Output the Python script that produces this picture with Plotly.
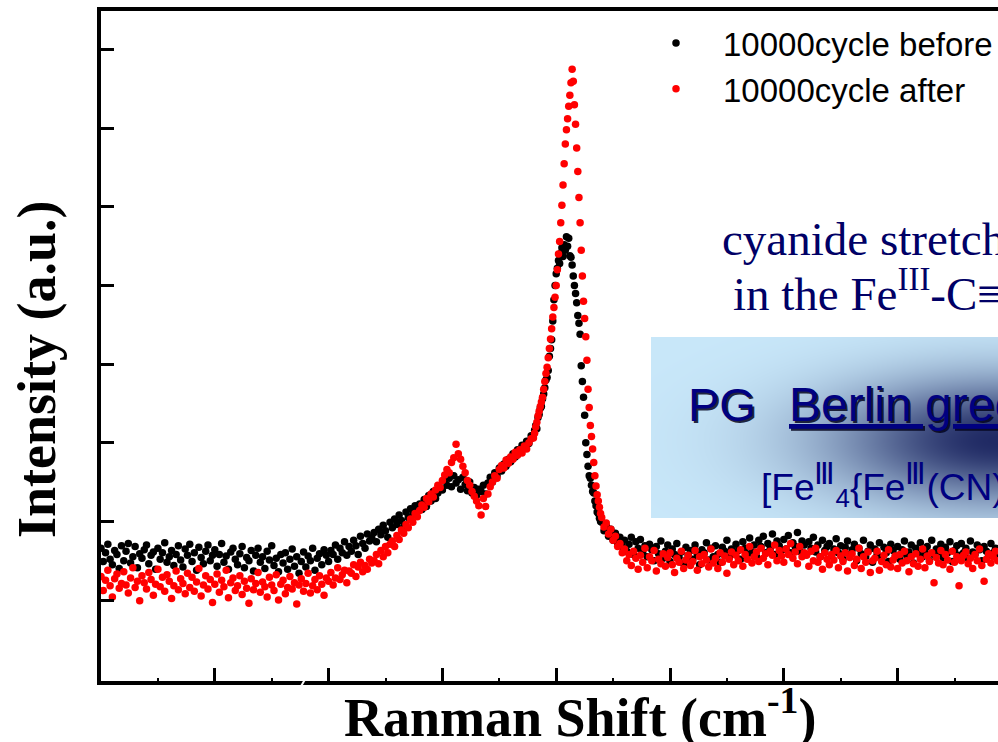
import base64
import struct
import zlib

import numpy as np
import plotly.graph_objects as go

# ---------------------------------------------------------------------------
# Raman spectra of the Berlin-green film before / after 10000 cycles
# ---------------------------------------------------------------------------
# sampling grid (cm^-1): 1 cm^-1 steps, 0.5 cm^-1 steps across the C≡N band
shift_low = np.arange(1950, 2140, 1.0)
shift_band = np.arange(2140, 2170, 0.5)
shift_high = np.arange(2170, 2345, 1.0)

before_low = [
    166, 149, 160, 171, 152, 145, 163, 158, 140, 169,
    150, 162, 172, 147, 155, 168, 141, 159, 153, 164,
    170, 146, 157, 161, 139, 166, 152, 160, 173, 148,
    155, 163, 144, 158, 169, 151, 142, 165, 157, 171,
    149, 160, 138, 167, 154, 146, 162, 170, 150, 157,
    164, 143, 158, 172, 148, 156, 139, 161, 166, 152,
    145, 159, 168, 141, 154, 150, 163, 137, 157, 166,
    148, 155, 140, 162, 151, 169, 144, 153, 136, 158,
    147, 160, 139, 152, 165, 143, 155, 134, 149, 161,
    142, 156, 150, 166, 138, 153, 159, 145, 164, 157,
    149, 163, 158, 170, 152, 166, 160, 174, 157, 168,
    162, 176, 169, 158, 181, 172, 166, 184, 175, 179,
    186, 174, 190, 183, 195, 188, 180, 199, 192, 203,
    196, 208, 201, 193, 212, 205, 216, 209, 220, 213,
    222, 215, 228, 219, 233, 226, 238, 229, 236, 243,
    240, 252, 246, 255, 244, 258, 249, 253, 241, 256,
    247, 239, 250, 236, 243, 233, 241, 238, 246, 235,
    249, 256, 250, 262, 258, 268, 264, 273, 270, 279,
    276, 286, 282, 291, 288, 297, 293, 302, 299, 309,
]
before_band = [
    310, 316, 322, 318, 332, 336, 344, 346, 356, 362,
    370, 380, 383, 392, 410, 420, 431, 455, 482, 500,
    515, 522, 532, 528, 541, 548, 537, 552, 545, 562,
    550, 560, 538, 536, 526, 512, 500, 490, 478, 462,
    452, 438, 398, 378, 358, 335, 300, 285, 270, 258,
    255, 246, 238, 236, 226, 220, 212, 210, 204, 200,
]
before_high = [
    199, 188, 194, 181, 190, 176, 185, 172, 180, 168,
    176, 162, 171, 180, 158, 174, 166, 177, 160, 169,
    155, 171, 164, 150, 168, 159, 175, 153, 162, 170,
    149, 165, 158, 172, 154, 161, 146, 167, 157, 163,
    152, 170, 158, 145, 164, 160, 173, 151, 166, 155,
    169, 158, 148, 167, 162, 176, 154, 165, 159, 171,
    163, 152, 174, 166, 158, 179, 161, 170, 155, 176,
    168, 181, 160, 172, 165, 184, 158, 175, 169, 163,
    177, 165, 182, 160, 173, 168, 186, 162, 175, 170,
    158, 174, 166, 180, 161, 170, 155, 176, 163, 168,
    172, 157, 165, 178, 160, 169, 152, 167, 175, 158,
    164, 171, 150, 166, 159, 176, 155, 162, 170, 148,
    165, 158, 173, 154, 167, 160, 149, 171, 163, 156,
    168, 152, 164, 175, 157, 161, 170, 147, 166, 159,
    173, 155, 162, 168, 150, 176, 158, 165, 161, 171,
    154, 167, 160, 174, 149, 163, 169, 157, 172, 160,
    166, 153, 175, 161, 158, 170, 164, 150, 168, 162,
    157, 172, 160, 166, 155,
]

after_low = [
    130, 112, 125, 138, 118, 104, 127, 133, 115, 121,
    136, 119, 109, 128, 141, 116, 124, 99, 131, 122,
    114, 135, 126, 106, 120, 139, 117, 129, 111, 132,
    124, 102, 118, 137, 113, 127, 121, 108, 134, 116,
    129, 111, 123, 140, 105, 119, 131, 114, 126, 97,
    120, 133, 110, 125, 117, 138, 103, 122, 128, 112,
    118, 131, 107, 124, 115, 96, 127, 113, 121, 135,
    110, 123, 117, 104, 129, 119, 112, 132, 100, 120,
    125, 108, 116, 130, 114, 122, 95, 119, 127, 111,
    121, 134, 109, 118, 126, 113, 131, 120, 106, 128,
    124, 135, 119, 128, 141, 126, 132, 138, 122, 137,
    134, 145, 130, 142, 148, 136, 144, 139, 152, 147,
    150, 158, 146, 163, 155, 168, 160, 171, 175, 168,
    182, 177, 189, 185, 196, 192, 203, 199, 210, 206,
    214, 221, 218, 229, 225, 235, 231, 240, 246, 243,
    252, 259, 266, 262, 275, 281, 298, 286, 279, 270,
    262, 252, 246, 238, 232, 226, 220, 208, 229, 219,
    235, 244, 250, 258, 255, 266, 271, 268, 278, 274,
    282, 279, 288, 284, 291, 287, 296, 292, 300, 305,
]
after_band = [
    306, 312, 320, 326, 334, 340, 346, 352, 358, 368,
    378, 388, 396, 408, 420, 432, 445, 460, 472, 485,
    500, 520, 540, 556, 580, 602, 628, 655, 680, 698,
    712, 728, 742, 758, 775, 760, 730, 705, 675, 645,
    612, 580, 545, 512, 480, 458, 435, 405, 368, 345,
    322, 308, 292, 275, 258, 245, 234, 226, 218, 210,
]
after_high = [
    205, 193, 198, 184, 190, 176, 181, 168, 172, 160,
    165, 150, 158, 144, 162, 153, 139, 157, 148, 166,
    141, 155, 150, 163, 137, 152, 146, 159, 143, 154,
    160, 145, 135, 153, 148, 162, 140, 151, 157, 144,
    149, 163, 138, 155, 146, 158, 151, 142, 165, 147,
    153, 140, 160, 148, 156, 134, 152, 161, 145, 157,
    150, 164, 143, 158, 152, 168, 147, 155, 161, 149,
    166, 153, 159, 145, 162, 157, 170, 150, 163, 156,
    148, 165, 158, 172, 153, 161, 146, 168, 155, 160,
    157, 143, 162, 150, 166, 148, 155, 139, 160, 152,
    145, 158, 151, 163, 141, 156, 149, 160, 137, 154,
    159, 144, 152, 166, 140, 155, 148, 161, 135, 150,
    153, 162, 138, 149, 157, 145, 164, 142, 151, 156,
    140, 158, 147, 162, 150, 136, 155, 146, 159, 143,
    152, 165, 141, 156, 149, 160, 122, 154, 147, 163,
    145, 158, 151, 139, 162, 148, 155, 118, 150, 157,
    161, 146, 153, 140, 158, 150, 165, 144, 124, 152,
    159, 147, 155, 162, 150,
]

series_names = ["10000cycle before", "10000cycle after"]
series_colors = ["#000000", "#ff0000"]

x_major_step = 50
y_tick_values = [100, 200, 300, 400, 500, 600, 700, 800]

shift = np.concatenate([shift_low, shift_band, shift_high])
intensity_before = np.array(before_low + before_band + before_high, dtype=float)
intensity_after = np.array(after_low + after_band + after_high, dtype=float)

# ---------------------------------------------------------------------------
# page geometry
# ---------------------------------------------------------------------------
W, H = 998, 742
M_L, M_R, M_T, M_B = 101, 0, 11, 61
PW, PH = W - M_L - M_R, H - M_T - M_B


def px_x(px):
    return (px - M_L) / PW


def px_y(py):
    return (H - M_B - py) / PH


SERIF = "Liberation Serif, Times New Roman, serif"
SANS = "Liberation Sans, Arial, sans-serif"
NAVY = "#000066"


def png_uri(rgb):
    h, w, _ = rgb.shape
    raw = b"".join(b"\x00" + rgb[r].tobytes() for r in range(h))

    def chunk(tag, data):
        body = tag + data
        return struct.pack(">I", len(data)) + body + struct.pack(">I", zlib.crc32(body) & 0xFFFFFFFF)

    png = (b"\x89PNG\r\n\x1a\n"
           + chunk(b"IHDR", struct.pack(">IIBBBBB", w, h, 8, 2, 0, 0, 0))
           + chunk(b"IDAT", zlib.compress(raw, 9))
           + chunk(b"IEND", b""))
    return "data:image/png;base64," + base64.b64encode(png).decode()


# light-blue panel with a dark navy glow toward its right side
BOX_L, BOX_T, BOX_R, BOX_B = 651, 337, 998, 518
bw, bh = BOX_R - BOX_L, BOX_B - BOX_T
gx, gy = np.meshgrid(np.arange(bw) + BOX_L, np.arange(bh) + BOX_T)
glow = np.exp(-((gx - 1000) / 170.0) ** 2 - ((gy - 440) / 62.0) ** 2)
light = np.array([201, 232, 250], dtype=float)
dark = np.array([32, 42, 100], dtype=float)
panel = light[None, None, :] * (1 - glow[..., None]) + dark[None, None, :] * glow[..., None]
panel_uri = png_uri(np.clip(panel, 0, 255).astype(np.uint8))

fig = go.Figure()
for name, color, y in zip(series_names, series_colors, [intensity_before, intensity_after]):
    fig.add_trace(go.Scatter(
        x=shift, y=y, mode="markers", name=name,
        marker=dict(color=color, size=7.5, line=dict(width=0)),
    ))

fig.update_layout(
    width=W, height=H,
    margin=dict(l=M_L, r=M_R, t=M_T, b=M_B, pad=0),
    paper_bgcolor="white", plot_bgcolor="white",
    showlegend=True,
    legend=dict(
        x=px_x(629), y=px_y(15), xanchor="left", yanchor="top",
        font=dict(family=SANS, size=33, color="black"),
        bgcolor="rgba(0,0,0,0)", borderwidth=0, itemwidth=84,
    ),
    xaxis=dict(
        range=[1950, 1950 + PW / 2.276], showgrid=False, zeroline=False,
        showline=True, linecolor="black", linewidth=4, mirror=True,
        ticks="inside", ticklen=13, tickwidth=3, tickcolor="black",
        tick0=1950, dtick=x_major_step, showticklabels=False,
        minor=dict(ticks="inside", ticklen=3, tickwidth=1.5, dtick=x_major_step / 2, tickcolor="black"),
        automargin=False,
    ),
    yaxis=dict(
        range=[-3, 849.2], showgrid=False, zeroline=False,
        showline=True, linecolor="black", linewidth=4, mirror=False,
        ticks="inside", ticklen=13, tickwidth=3, tickcolor="black",
        tickmode="array", tickvals=y_tick_values, showticklabels=False,
        automargin=False,
    ),
    images=[dict(
        source=panel_uri, xref="paper", yref="paper",
        x=px_x(BOX_L), y=px_y(BOX_T), sizex=bw / PW, sizey=bh / PH,
        xanchor="left", yanchor="top", sizing="stretch", layer="above",
    )],
)

ann = dict(xref="paper", yref="paper", showarrow=False, xanchor="left",
           yanchor="middle", borderpad=0, borderwidth=0)

# axis titles
title_font = dict(family=SERIF, size=54, color="black", weight="bold")
fig.add_annotation(**{**ann, "xanchor": "center"}, x=px_x(580), y=px_y(713),
                   text="Ranman Shift (cm<sup>-1</sup>)", font=title_font)
fig.add_annotation(**{**ann, "xanchor": "center"}, x=px_x(37), y=px_y(369),
                   text="Intensity (a.u.)", textangle=-90, font=title_font)

fig.add_annotation(**ann, x=px_x(722), y=px_y(239), text="cyanide stretching vibration",
                   font=dict(family=SERIF, size=47, color=NAVY))
fig.add_annotation(**ann, x=px_x(733), y=px_y(290),
                   text="in the Fe<sup>III</sup>-C≡N-Fe<sup>III</sup>",
                   font=dict(family=SERIF, size=47, color=NAVY))

# heading inside the panel, drawn twice for a drop shadow
for shadow in (True, False):
    col = "rgba(5,5,30,0.85)" if shadow else "#000080"
    dx, dy = (2, -2) if shadow else (0, 0)
    fig.add_annotation(**ann, x=px_x(688), y=px_y(404), text="PG",
                       xshift=dx, yshift=dy, font=dict(family=SANS, size=47, color=col))
    fig.add_annotation(**ann, x=px_x(789), y=px_y(404), text="<u>Berlin green</u>",
                       xshift=dx, yshift=dy, font=dict(family=SANS, size=48, color=col))

roman3 = '<span style="font-size:30px">Ⅲ</span>'
fig.add_annotation(**ann, x=px_x(761), y=px_y(484),
                   text=f"[Fe<sup>{roman3}</sup><sub>4</sub>{{Fe<sup>{roman3}</sup>(CN)<sub>6</sub>}}<sub>3</sub>]",
                   font=dict(family=SANS, size=37, color="#000080"))

# small nick in the bottom axis line
fig.add_shape(type="line", xref="paper", yref="paper",
              x0=px_x(300), y0=px_y(688), x1=px_x(307), y1=px_y(676),
              line=dict(color="white", width=2))

fig.write_html("out.html")
